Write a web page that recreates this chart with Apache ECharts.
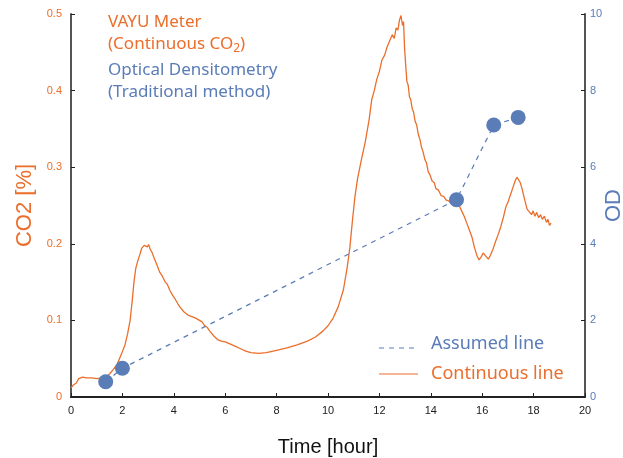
<!DOCTYPE html>
<html>
<head>
<meta charset="utf-8">
<script src="https://cdn.jsdelivr.net/npm/echarts@6/dist/echarts.min.js"></script>
<style>
  html, body { margin: 0; padding: 0; background: #fff; }
  #chart { width: 623px; height: 458px; }
</style>
</head>
<body>
<div id="chart"></div>
<script>
// continuous CO2 readings (hour, %)
var co2Time = [0.0, 0.1, 0.2, 0.3, 0.45, 0.6, 0.8, 1.0, 1.2, 1.35, 1.5, 1.65, 1.8, 1.95, 2.1, 2.2, 2.3, 2.38, 2.45, 2.52,
  2.6, 2.68, 2.75, 2.8, 2.85, 2.92, 2.97, 3.02, 3.08, 3.15, 3.25, 3.35, 3.45, 3.55, 3.65, 3.75, 3.85, 3.95, 4.05, 4.15,
  4.25, 4.4, 4.55, 4.7, 4.85, 5.0, 5.1, 5.2, 5.3, 5.4, 5.55, 5.7, 5.85, 6.0, 6.2, 6.4, 6.6, 6.8, 7.0, 7.3,
  7.6, 8.0, 8.4, 8.8, 9.2, 9.5, 9.8, 10.0, 10.2, 10.4, 10.6, 10.75, 10.85, 10.95, 11.05, 11.15, 11.3, 11.45, 11.6, 11.7,
  11.8, 11.9, 12.0, 12.1, 12.2, 12.3, 12.4, 12.5, 12.58, 12.65, 12.72, 12.78, 12.84, 12.9, 12.94, 12.98, 13.03, 13.07, 13.12, 13.17,
  13.22, 13.28, 13.33, 13.39, 13.45, 13.52, 13.58, 13.64, 13.7, 13.77, 13.83, 13.9, 13.97, 14.05, 14.13, 14.2, 14.3, 14.4, 14.5, 14.6,
  14.7, 14.8, 14.9, 15.0, 15.1, 15.2, 15.3, 15.4, 15.5, 15.6, 15.7, 15.8, 15.88, 15.96, 16.04, 16.14, 16.24, 16.32, 16.42, 16.52,
  16.62, 16.72, 16.82, 16.92, 17.02, 17.12, 17.2, 17.28, 17.35, 17.42, 17.48, 17.55, 17.62, 17.68, 17.74, 17.8, 17.86, 17.92, 17.98, 18.05,
  18.12, 18.2, 18.27, 18.34, 18.42, 18.5, 18.56, 18.62, 18.68]
var co2Value = [0.012, 0.016, 0.018, 0.024, 0.026, 0.025, 0.025, 0.024, 0.025, 0.026, 0.030, 0.036, 0.043, 0.055, 0.068, 0.082, 0.100, 0.125, 0.150, 0.168,
  0.178, 0.186, 0.194, 0.192, 0.198, 0.200, 0.196, 0.199, 0.193, 0.189, 0.180, 0.172, 0.163, 0.158, 0.151, 0.147, 0.139, 0.133, 0.128, 0.122,
  0.117, 0.111, 0.107, 0.105, 0.103, 0.100, 0.098, 0.093, 0.091, 0.086, 0.080, 0.075, 0.073, 0.072, 0.069, 0.066, 0.063, 0.060, 0.058, 0.057,
  0.058, 0.061, 0.064, 0.068, 0.073, 0.078, 0.086, 0.093, 0.103, 0.118, 0.140, 0.170, 0.195, 0.230, 0.262, 0.285, 0.310, 0.333, 0.362, 0.388,
  0.400, 0.415, 0.425, 0.440, 0.446, 0.457, 0.465, 0.473, 0.468, 0.482, 0.479, 0.492, 0.498, 0.485, 0.490, 0.455, 0.430, 0.412, 0.407, 0.392,
  0.388, 0.376, 0.372, 0.360, 0.355, 0.342, 0.336, 0.326, 0.320, 0.310, 0.306, 0.294, 0.290, 0.282, 0.280, 0.272, 0.270, 0.263, 0.262, 0.257,
  0.256, 0.253, 0.255, 0.253, 0.250, 0.243, 0.236, 0.227, 0.218, 0.209, 0.195, 0.184, 0.179, 0.183, 0.188, 0.184, 0.180, 0.185, 0.193, 0.203,
  0.212, 0.222, 0.234, 0.248, 0.256, 0.266, 0.274, 0.282, 0.287, 0.285, 0.280, 0.272, 0.262, 0.254, 0.246, 0.243, 0.245, 0.238, 0.243, 0.236,
  0.241, 0.234, 0.238, 0.232, 0.236, 0.228, 0.232, 0.224, 0.227]

// optical density samples (hour, OD)
var odTime = [1.35, 2.0, 15.0, 16.45, 17.4]
var odValue = [0.4, 0.75, 5.15, 7.1, 7.3]

var orange = '#EB6E2C'
var blue = '#5A7CB7'
var tickFont = '"Liberation Sans", Arial, sans-serif'
var legendFont = '"Noto Sans", sans-serif'

var myChart = echarts.init(document.getElementById('chart'))

var co2Data = co2Time.map(function (t, i) { return [t, co2Value[i]] })
var odData = odTime.map(function (t, i) { return [t, odValue[i]] })

var option = {
  animation: false,
  grid: {
    left: 71,
    right: 38,
    top: 14,
    bottom: 61,
    outerBoundsMode: 'none'
  },
  xAxis: {
    type: 'value',
    min: 0,
    max: 20,
    interval: 2,
    name: 'Time [hour]',
    nameLocation: 'middle',
    nameGap: 40,
    nameTextStyle: { fontFamily: tickFont, fontSize: 20, color: '#111' },
    axisLine: { lineStyle: { color: '#222', width: 2 } },
    axisTick: { inside: true, length: 4, lineStyle: { color: '#222' } },
    axisLabel: { fontFamily: tickFont, fontSize: 11, color: '#222', margin: 8 },
    splitLine: { show: false }
  },
  yAxis: [
    {
      type: 'value',
      min: 0,
      max: 0.5,
      interval: 0.1,
      name: 'CO2 [%]',
      nameLocation: 'middle',
      nameGap: 30,
      nameTextStyle: { fontFamily: tickFont, fontSize: 22, color: orange },
      axisLine: { show: true, lineStyle: { color: '#555', width: 2 } },
      axisTick: { show: true, inside: true, length: 4, lineStyle: { color: '#222' } },
      axisLabel: { fontFamily: tickFont, fontSize: 11, color: orange, margin: 9 },
      splitLine: { show: false }
    },
    {
      type: 'value',
      position: 'right',
      min: 0,
      max: 10,
      interval: 2,
      name: 'OD',
      nameLocation: 'middle',
      nameRotate: 90,
      nameGap: 18,
      nameMoveOverlap: false,
      nameTextStyle: { fontFamily: tickFont, fontSize: 22, color: blue },
      axisLine: { show: true, lineStyle: { color: '#555', width: 2 } },
      axisTick: { show: true, inside: true, length: 4, lineStyle: { color: '#222' } },
      axisLabel: { fontFamily: tickFont, fontSize: 11, color: blue, margin: 5 },
      splitLine: { show: false }
    }
  ],
  series: [
    {
      name: 'Continuous line',
      type: 'line',
      yAxisIndex: 0,
      showSymbol: false,
      symbol: 'none',
      lineStyle: { color: orange, width: 1.3 },
      data: co2Data,
      z: 2
    },
    {
      name: 'Assumed line',
      type: 'line',
      yAxisIndex: 1,
      symbol: 'circle',
      symbolSize: 15,
      itemStyle: { color: blue },
      lineStyle: { color: blue, width: 1.2, type: [5, 5] },
      data: odData,
      z: 3
    }
  ],
  graphic: [
    { type: 'text', left: 108, top: 14, style: { text: 'VAYU Meter', fill: orange, font: '17px ' + legendFont } },
    {
      type: 'text', left: 108, top: 36,
      style: {
        text: '{a|(Continuous CO}{s|2}{a|)}',
        rich: {
          a: { fill: orange, font: '17px ' + legendFont },
          s: { fill: orange, font: '12px ' + legendFont, padding: [8, 0, 0, 0] }
        }
      }
    },
    { type: 'text', left: 108, top: 62, style: { text: 'Optical Densitometry', fill: blue, font: '17px ' + legendFont } },
    { type: 'text', left: 108, top: 84, style: { text: '(Traditional method)', fill: blue, font: '17px ' + legendFont } },
    // bottom right legend
    { type: 'line', shape: { x1: 379, y1: 348, x2: 418, y2: 348 }, style: { stroke: blue, lineWidth: 1, lineDash: [5, 5] } },
    { type: 'text', left: 431, top: 335, style: { text: 'Assumed line', fill: blue, font: '18px ' + legendFont } },
    { type: 'line', shape: { x1: 379, y1: 374, x2: 418, y2: 374 }, style: { stroke: orange, lineWidth: 1.2 } },
    { type: 'text', left: 431, top: 365, style: { text: 'Continuous line', fill: orange, font: '18px ' + legendFont } }
  ]
}

myChart.setOption(option)
</script>
</body>
</html>
